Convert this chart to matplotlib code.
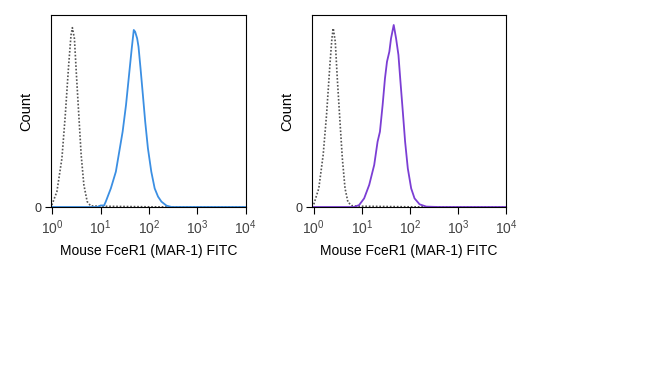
import numpy as np
import matplotlib
matplotlib.use("Agg")
import matplotlib.pyplot as plt
from matplotlib.ticker import LogLocator, FixedLocator, NullFormatter

plt.rcParams['font.family'] = ['Liberation Sans', 'DejaVu Sans']
plt.rcParams['mathtext.default'] = 'regular'

# ---- data (log10 fluorescence, % of mode) ----
iso1_log = [-0.013, 0.092, 0.196, 0.266, 0.336, 0.385, 0.413, 0.455, 0.497, 0.546, 0.595, 0.651, 0.720, 0.790, 1.0, 1.35, 2.0, 3.0, 4.0]
iso1_val = [1.0, 8.0, 25.3, 47.9, 74.0, 89.6, 93.4, 87.8, 68.8, 47.9, 27.1, 11.5, 2.8, 0.6, 0.4, 0.3, 0.1, 0.0, 0.0]

blue_log = [-0.03, 0.5, 0.93, 1.0, 1.07, 1.105, 1.21, 1.314, 1.384, 1.454, 1.524, 1.594, 1.643, 1.685, 1.713, 1.755, 1.783, 1.825, 1.874, 1.922, 1.978, 2.048, 2.118, 2.188, 2.258, 2.363, 2.468, 3.0, 4.0]
blue_val = [0.0, 0.0, 0.0, 0.8, 0.8, 2.8, 9.7, 18.4, 28.8, 39.2, 53.1, 70.5, 82.6, 92.2, 91.3, 87.8, 83.5, 72.2, 58.3, 44.4, 30.6, 18.4, 9.7, 5.4, 2.8, 0.7, 0.0, 0.0, 0.0]

iso2_log = [0.001, 0.105, 0.196, 0.266, 0.336, 0.378, 0.406, 0.448, 0.490, 0.546, 0.595, 0.651, 0.713, 0.804, 1.0, 1.35, 2.0, 3.0, 4.0]
iso2_val = [1.4, 9.7, 27.1, 47.9, 74.0, 87.8, 93.1, 86.1, 67.0, 44.4, 25.3, 9.7, 2.4, 0.6, 0.4, 0.3, 0.1, 0.0, 0.0]

purple_log = [-0.03, 0.5, 0.839, 0.944, 1.049, 1.154, 1.258, 1.328, 1.377, 1.433, 1.482, 1.524, 1.573, 1.608, 1.664, 1.713, 1.762, 1.804, 1.853, 1.901, 1.957, 2.027, 2.097, 2.202, 2.342, 2.6, 3.0, 4.0]
purple_val = [0.0, 0.0, 0.0, 1.0, 4.5, 11.5, 21.9, 34.0, 39.2, 53.1, 67.0, 75.7, 80.9, 87.8, 94.8, 87.8, 79.2, 65.3, 49.7, 34.0, 20.1, 9.7, 4.5, 1.4, 0.2, 0.0, 0.0, 0.0]

x_ticks = [1, 10, 100, 1000, 10000]
x_ticklabels = ['$10^{0}$', '$10^{1}$', '$10^{2}$', '$10^{3}$', '$10^{4}$']
xlabel = 'Mouse FceR1 (MAR-1) FITC'
ylabel = 'Count'

fig = plt.figure(figsize=(6.5, 3.75), dpi=100)
ax1 = fig.add_axes([51/650, 1-207/375, 194.5/650, 192/375])
ax2 = fig.add_axes([312.3/650, 1-207/375, 193.7/650, 192/375])

panels = [(ax1, iso1_log, iso1_val, blue_log, blue_val, '#3b8fe3'),
          (ax2, iso2_log, iso2_val, purple_log, purple_val, '#7b3ed4')]

for ax, il, iv, sl, sv, col in panels:
    ax.plot(10**np.array(il), iv, color='#555555', lw=1.2, ls=(0, (1, 1.1)))
    ax.plot(10**np.array(sl), sv, color=col, lw=1.3)
    ax.set_xscale('log')
    ax.set_xlim(10**-0.03, 10**4.0)
    ax.set_ylim(0, 100)
    ax.xaxis.set_major_locator(FixedLocator(x_ticks))
    ax.set_xticklabels(x_ticklabels, fontsize=10, color='#444444')
    ax.xaxis.set_minor_locator(LogLocator(base=10, subs=np.arange(2, 10)))
    ax.xaxis.set_minor_formatter(NullFormatter())
    ax.tick_params(axis='x', which='major', direction='out', length=5, width=0.8, pad=3)
    ax.tick_params(axis='x', which='minor', direction='out', length=2.5, width=0.6)
    ax.set_yticks([0])
    ax.set_yticklabels(['0'], fontsize=9, color='#333333')
    ax.tick_params(axis='y', direction='out', length=4, width=0.8, pad=3)
    for s in ax.spines.values():
        s.set_linewidth(0.8)
    ax.set_xlabel(xlabel, fontsize=10, labelpad=5)
    ax.set_ylabel(ylabel, fontsize=10.5, labelpad=1)

fig.savefig('out.png', dpi=100)
